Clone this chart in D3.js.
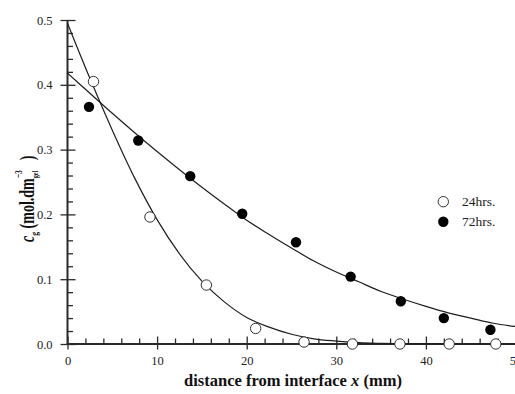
<!DOCTYPE html>
<html>
<head>
<meta charset="utf-8">
<script src="https://cdn.jsdelivr.net/npm/d3@7"></script>
<style>
  body { margin: 0; background: #fff; }
  svg { display: block; }
  text { font-family: "Liberation Serif", "Times New Roman", serif; }
</style>
</head>
<body>
<svg id="chart" width="515" height="394"></svg>
<script>
// Gel concentration profiles measured after 24 and 72 hours
const xTicks = [0, 10, 20, 30, 40, 50];
const yTicks = [0, 0.1, 0.2, 0.3, 0.4, 0.5];
const yTickLabels = ["0.0", "0.1", "0.2", "0.3", "0.4", "0.5"];

const dist24 = [2.9, 9.2, 15.5, 21.0, 26.4, 31.8, 37.1, 42.6, 47.8];
const conc24 = [0.405, 0.196, 0.091, 0.024, 0.003, 0.0, 0.0, 0.0, 0.0];
const dist72 = [2.4, 7.9, 13.7, 19.5, 25.5, 31.6, 37.2, 42.0, 47.2];
const conc72 = [0.366, 0.314, 0.259, 0.201, 0.157, 0.104, 0.066, 0.040, 0.022];

// Fitted diffusion curves, sampled every 2.5 mm
const fitX = [0, 2.5, 5, 7.5, 10, 12.5, 15, 17.5, 20, 22.5, 25, 27.5, 30, 32.5, 35, 37.5, 40, 42.5, 45, 47.5, 50];
const fit24 = [0.495, 0.410, 0.330, 0.256, 0.192, 0.139, 0.097, 0.065, 0.041, 0.026, 0.015, 0.008, 0.0045, 0.002, 0.001, 0.0005, 0.0002, 0.0001, 0, 0, 0];
const fit72 = [0.418, 0.387, 0.356, 0.326, 0.297, 0.269, 0.242, 0.216, 0.191, 0.169, 0.148, 0.128, 0.111, 0.096, 0.081, 0.069, 0.058, 0.048, 0.040, 0.032, 0.027];

const legendLabels = ["24hrs.", "72hrs."];

const svg = d3.select("#chart");
const x = d3.scaleLinear().domain([0, 50]).range([67.5, 515.5]);
const y = d3.scaleLinear().domain([0, 0.5]).range([344, 20]);

const ink = "#2a2a2a";

// ---- axes ----
const xMinor = d3.range(0, 51, 2).filter(v => v % 10 !== 0);
const yMinor = d3.range(0, 0.501, 0.02).filter(v => Math.abs(v * 10 - Math.round(v * 10)) > 1e-6);

function styleAxis(g) {
  g.selectAll("path.domain").remove();
  g.selectAll("line").attr("stroke", ink).attr("stroke-width", 1.3);
  g.selectAll("text").attr("fill", "#222").style("font-size", "12.5px");
}

// y axis: labels + outward half of major ticks
svg.append("g").attr("transform", `translate(${x(0)},0)`)
  .call(d3.axisLeft(y).tickValues(yTicks).tickSize(7).tickPadding(8)
    .tickFormat((d, i) => yTickLabels[i]))
  .call(styleAxis);
// inward half of major ticks
svg.append("g").attr("transform", `translate(${x(0)},0)`)
  .call(d3.axisRight(y).tickValues(yTicks).tickSize(8).tickFormat(""))
  .call(styleAxis);
// minor ticks
svg.append("g").attr("transform", `translate(${x(0)},0)`)
  .call(d3.axisRight(y).tickValues(yMinor).tickSize(5.5).tickFormat(""))
  .call(styleAxis);

// x axis
svg.append("g").attr("transform", `translate(0,${y(0)})`)
  .call(d3.axisBottom(x).tickValues(xTicks).tickSize(5.5).tickPadding(6.5)
    .tickFormat(d3.format("d")))
  .call(styleAxis);
svg.append("g").attr("transform", `translate(0,${y(0)})`)
  .call(d3.axisTop(x).tickValues(xTicks).tickSize(7.5).tickFormat(""))
  .call(styleAxis);
svg.append("g").attr("transform", `translate(0,${y(0)})`)
  .call(d3.axisTop(x).tickValues(xMinor).tickSize(5.5).tickFormat(""))
  .call(styleAxis);

// axis lines
svg.append("line").attr("x1", x(0)).attr("x2", x(0)).attr("y1", y(0.5)).attr("y2", y(0) + 0.7)
  .attr("stroke", ink).attr("stroke-width", 2);
svg.append("line").attr("x1", x(0) - 0.7).attr("x2", 515).attr("y1", y(0)).attr("y2", y(0))
  .attr("stroke", ink).attr("stroke-width", 2);

// ---- fitted curves ----
const line = d3.line()
  .x((d, i) => x(fitX[i]))
  .y(d => y(d))
  .curve(d3.curveMonotoneX);

[fit24, fit72].forEach(series => {
  svg.append("path")
    .attr("d", line(series))
    .attr("fill", "none")
    .attr("stroke", "#1e1e1e")
    .attr("stroke-width", 1.2);
});

// ---- data points ----
const r = 5.2;
svg.append("g").selectAll("circle")
  .data(dist24.map((d, i) => [d, conc24[i]]))
  .join("circle")
  .attr("cx", d => x(d[0])).attr("cy", d => y(d[1])).attr("r", r)
  .attr("fill", "#fff").attr("stroke", "#333").attr("stroke-width", 1);

svg.append("g").selectAll("circle")
  .data(dist72.map((d, i) => [d, conc72[i]]))
  .join("circle")
  .attr("cx", d => x(d[0])).attr("cy", d => y(d[1])).attr("r", r)
  .attr("fill", "#000");

// ---- legend ----
const legend = svg.append("g");
legendLabels.forEach((label, i) => {
  const ly = 201.7 + i * 20;
  legend.append("circle").attr("cx", 443.3).attr("cy", ly).attr("r", r)
    .attr("fill", i === 0 ? "#fff" : "#000")
    .attr("stroke", i === 0 ? "#333" : "none").attr("stroke-width", 1);
  legend.append("text").attr("x", 462).attr("y", ly)
    .attr("dominant-baseline", "central")
    .style("font-size", "13.5px").attr("fill", "#222")
    .text(label);
});

// ---- axis titles ----
const xt = svg.append("text")
  .attr("x", 293).attr("y", 386)
  .attr("text-anchor", "middle")
  .style("font-size", "16.5px").style("font-weight", "bold").attr("fill", "#111");
xt.append("tspan").text("distance from interface ");
xt.append("tspan").style("font-style", "italic").text("x");
xt.append("tspan").text(" (mm)");

// y title, condensed along its length
const yt = svg.append("text")
  .attr("transform", "translate(33.5,242) rotate(-90) scale(0.7,1)")
  .attr("text-anchor", "start")
  .style("font-size", "20px").style("font-weight", "bold").attr("fill", "#111");
yt.append("tspan").style("font-style", "italic").text("c");
yt.append("tspan").attr("dy", 4).style("font-size", "11px").text("g");
yt.append("tspan").attr("dy", -4).text(" (mol.dm");
yt.append("tspan").attr("dy", 4.5).style("font-size", "9px").text("gel");
yt.append("tspan").attr("dx", -11).attr("dy", -16).style("font-size", "11px").text("\u22123");
yt.append("tspan").attr("dx", 14).attr("dy", 11.5).text(")");
</script>
</body>
</html>
